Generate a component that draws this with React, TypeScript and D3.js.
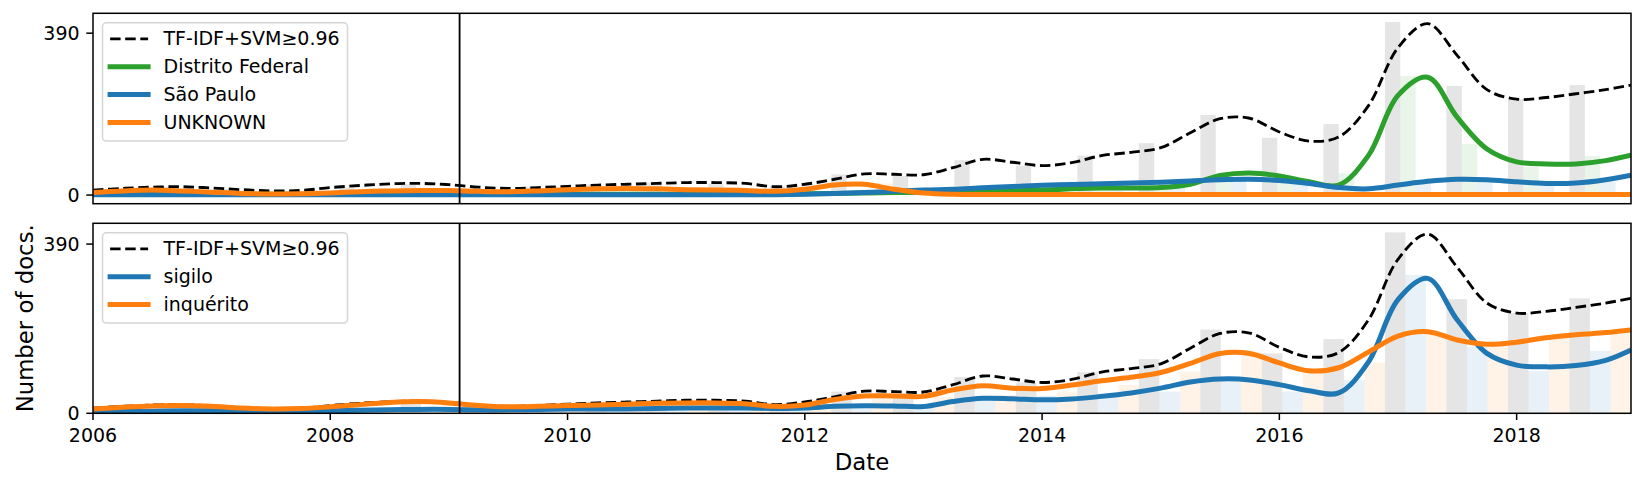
import * as d3 from "d3";

// sample dates for the smoothed curves (fractional years)
const lineYears = [
  2006, 2006.25, 2006.5, 2006.75, 2007, 2007.25, 2007.5, 2007.75,
  2008, 2008.25, 2008.5, 2008.75, 2009, 2009.25, 2009.5, 2009.75,
  2010, 2010.25, 2010.5, 2010.75, 2011, 2011.25, 2011.5, 2011.75,
  2012, 2012.25, 2012.5, 2012.75, 2013, 2013.25, 2013.5, 2013.75,
  2014, 2014.25, 2014.5, 2014.75, 2015, 2015.25, 2015.5, 2015.75,
  2016, 2016.25, 2016.5, 2016.75, 2017, 2017.25, 2017.5, 2017.75,
  2018, 2018.25, 2018.5, 2018.75, 2018.964,
];

const totalLine = [
  12, 16, 19, 20, 17, 13, 10, 11,
  18, 23, 27, 28, 25, 19, 16, 18,
  21, 24, 26, 28, 30, 30, 28, 20,
  26, 38, 51, 50, 49, 66, 86, 79,
  71, 78, 95, 103, 114, 150, 184, 185,
  152, 130, 140, 215, 355, 413, 336, 254,
  231, 235, 244, 254, 265,
];
const dfLine = [
  2, 2, 2, 2, 2, 2, 2, 2,
  2, 2, 2, 2, 2, 2, 2, 2,
  2, 2, 2, 2, 2, 2, 2, 2,
  3, 4, 5, 6, 6, 7, 8, 10,
  12, 15, 17, 17, 18, 26, 47, 53,
  46, 32, 24, 95, 240, 284, 187, 111,
  80, 75, 75, 83, 96,
];
const spLine = [
  1, 1, 1, 1, 1, 1, 1, 1,
  1, 1, 1, 1, 1, 1, 1, 1,
  1, 1, 1, 1, 1, 1, 1, 1,
  2, 4, 6, 9, 12, 14, 17.5, 20.5,
  23.5, 25.5, 27.3, 28.8, 31, 34, 37, 38,
  35, 28, 18, 15, 24, 33, 38, 37,
  32, 28, 29, 37, 48,
];
const unkLine = [
  6, 10, 12, 10, 7, 4, 2.5, 3,
  5, 8, 10, 11, 11, 9, 8, 10,
  13, 15, 16, 15, 13, 12, 11, 9,
  14, 24, 26, 14, 5, 2, 1.5, 1.5,
  1.5, 1.5, 1.5, 1.5, 1.5, 1.5, 1.5, 1.5,
  1.5, 1.5, 1.5, 1.5, 1.5, 1.5, 1.5, 1.5,
  1.5, 1.5, 1.5, 1.5, 1.5,
];
const sigiloLine = [
  2, 4, 5, 6, 6, 5, 5, 5,
  6, 7, 8, 9, 9, 8, 8, 9,
  10, 10, 10, 11, 12, 12, 12, 11,
  12, 16, 17.5, 17, 15.5, 27, 34.6, 33.5,
  31, 33, 39, 47, 58, 72, 79, 77,
  66, 52, 47, 118, 262, 311, 215, 138,
  111, 107, 110, 122, 146,
];
const inqLine = [
  10, 14, 17, 18, 16, 12, 10, 11,
  15, 20, 25, 27, 24, 18, 15, 16,
  18, 19, 21, 23, 24, 24, 22, 16,
  19, 32, 40, 40, 39, 54, 63.7, 58,
  57, 65, 75, 83, 94, 115, 138, 138,
  116, 98, 105, 141, 178, 188, 169, 159,
  164, 174, 181, 186, 192,
];

// histogram counts, 25 bins over the date range
const totalBins = [15, 20, 14, 10, 18, 26, 16, 20, 26, 30, 27, 22, 50, 46, 84, 71, 95, 125, 193, 138, 171, 417, 263, 231, 265];
const dfBins = [1, 1, 1, 1, 1, 1, 1, 1, 1, 1, 1, 2, 3, 5, 8, 12, 16, 20, 50, 38, 52, 287, 123, 68, 94];
const spBins = [1, 1, 1, 1, 1, 1, 1, 1, 1, 1, 2, 2, 5, 12, 18, 24, 28, 31, 36, 34, 18, 30, 40, 30, 32];
const unkBins = [7, 12, 6, 2, 6, 10, 10, 9, 15, 14, 12, 8, 28, 5, 1, 1, 1, 1, 1, 1, 1, 1, 1, 1, 1];
const sigiloBins = [2, 5, 6, 5, 6, 8, 9, 8, 10, 10, 12, 11, 17, 15, 38, 40, 46, 50, 77, 50, 77, 319, 153, 98, 144];
const inqBins = [10, 16, 12, 10, 14, 24, 18, 17, 22, 24, 22, 17, 40, 38, 42, 50, 65, 96, 142, 93, 117, 184, 161, 175, 184];

const xTicks = [2006, 2008, 2010, 2012, 2014, 2016, 2018];
const yTicks = [0, 390];
const cutoffYear = 2009.09;

const W = 1645, H = 489;
const X0 = 93, X1 = 1631;
const FONT = "DejaVu Sans";
const FS = 19, FS_LABEL = 22.8;

const xMin = lineYears[0], xMax = lineYears[lineYears.length - 1];
const x = d3.scaleLinear().domain([xMin, xMax]).range([X0, X1]);
const nBins = totalBins.length;
const binEdges = d3.range(nBins + 1).map(i => xMin + (i * (xMax - xMin)) / nBins);

interface Series {
  label: string;
  color: string;
  line: number[];
  bins: number[];
  dashed?: boolean;
}

const topSeries: Series[] = [
  { label: "TF-IDF+SVM≥0.96", color: "#000000", line: totalLine, bins: totalBins, dashed: true },
  { label: "Distrito Federal", color: "#2ca02c", line: dfLine, bins: dfBins },
  { label: "São Paulo", color: "#1f77b4", line: spLine, bins: spBins },
  { label: "UNKNOWN", color: "#ff7f0e", line: unkLine, bins: unkBins },
];
const bottomSeries: Series[] = [
  { label: "TF-IDF+SVM≥0.96", color: "#000000", line: totalLine, bins: totalBins, dashed: true },
  { label: "sigilo", color: "#1f77b4", line: sigiloLine, bins: sigiloBins },
  { label: "inquérito", color: "#ff7f0e", line: inqLine, bins: inqBins },
];

function Panel({ id, top, bottom, yDomain, series, showXAxis }: {
  id: string; top: number; bottom: number; yDomain: [number, number];
  series: Series[]; showXAxis: boolean;
}) {
  const y = d3.scaleLinear().domain(yDomain).range([bottom, top]);
  const line = d3.line<number>()
    .x((_, i) => x(lineYears[i]))
    .y(d => y(d))
    .curve(d3.curveCatmullRom);
  const n = series.length;
  const rowH = 27.9;
  const legX = 102.5, legY = top + 9.5, legW = 245, legH = rowH * n + 6.6;

  return (
    <g>
      <defs>
        <clipPath id={id}>
          <rect x={X0} y={top} width={X1 - X0} height={bottom - top} />
        </clipPath>
      </defs>
      <g clipPath={`url(#${id})`}>
        {series.map((s, j) =>
          s.bins.map((v, k) => {
            const bx0 = x(binEdges[k]);
            const bw = (x(binEdges[k + 1]) - bx0) / n;
            return (
              <rect key={`${j}-${k}`} x={bx0 + j * bw} width={bw}
                y={y(v)} height={y(0) - y(v)}
                fill={s.color} fillOpacity={0.1} />
            );
          })
        )}
        {series.map((s, j) => (
          <path key={j} d={line(s.line) ?? ""} fill="none" stroke={s.color}
            strokeWidth={s.dashed ? 2.85 : 5}
            strokeDasharray={s.dashed ? "10.5 4.6" : undefined}
            strokeLinejoin="round" />
        ))}
        <line x1={x(cutoffYear)} x2={x(cutoffYear)} y1={top} y2={bottom} stroke="#000" strokeWidth={1.8} />
      </g>
      <rect x={X0} y={top} width={X1 - X0} height={bottom - top} fill="none" stroke="#000" strokeWidth={1.5} />
      {yTicks.map(t => (
        <g key={t}>
          <line x1={X0 - 6.7} x2={X0} y1={y(t)} y2={y(t)} stroke="#000" strokeWidth={1.5} />
          <text x={X0 - 13.4} y={y(t) + 6.9} textAnchor="end" fontSize={FS} fontFamily={FONT}>{t}</text>
        </g>
      ))}
      {showXAxis && xTicks.map(t => (
        <g key={t}>
          <line x1={x(t)} x2={x(t)} y1={bottom} y2={bottom + 6.7} stroke="#000" strokeWidth={1.5} />
          <text x={x(t)} y={bottom + 28.4} textAnchor="middle" fontSize={FS} fontFamily={FONT}>{t}</text>
        </g>
      ))}
      <rect x={legX} y={legY} width={legW} height={legH} rx={3.8}
        fill="#fff" fillOpacity={0.8} stroke="#d5d5d5" strokeWidth={1.5} />
      {series.map((s, j) => {
        const cy = top + 25.5 + j * rowH;
        return (
          <g key={j}>
            <line x1={110.1} x2={148.1} y1={cy} y2={cy} stroke={s.color}
              strokeWidth={s.dashed ? 2.85 : 5}
              strokeDasharray={s.dashed ? "10.5 4.6" : undefined}
              strokeLinecap={s.dashed ? "butt" : "square"} />
            <text x={163.5} y={cy + 6.5} fontSize={FS} fontFamily={FONT}>{s.label}</text>
          </g>
        );
      })}
    </g>
  );
}

export default function App() {
  return (
    <div style={{ position: "absolute", left: 0, top: 0 }}>
      <svg width={W} height={H} viewBox={`0 0 ${W} ${H}`} style={{ display: "block", background: "#fff" }}>
        <rect width={W} height={H} fill="#fff" />
        <Panel id="clipTop" top={13.3} bottom={203.7} yDomain={[-20.85, 437.9]} series={topSeries} showXAxis={false} />
        <Panel id="clipBottom" top={223.3} bottom={413.3} yDomain={[0, 437.9]} series={bottomSeries} showXAxis={true} />
        <text x={(X0 + X1) / 2} y={470} textAnchor="middle" fontSize={FS_LABEL} fontFamily={FONT}>Date</text>
        <text transform={`translate(33,${(223.3 + 413.3) / 2}) rotate(-90)`} textAnchor="middle"
          fontSize={FS_LABEL} fontFamily={FONT}>Number of docs.</text>
      </svg>
    </div>
  );
}
